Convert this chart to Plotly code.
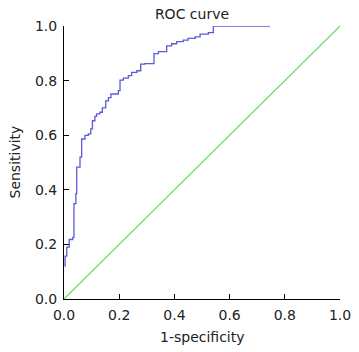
import plotly.graph_objects as go

# ROC curve vertices (false positive rate, true positive rate)
fpr = [0.004, 0.004, 0.010, 0.019, 0.032, 0.036, 0.043, 0.046, 0.058, 0.064,
       0.076, 0.088, 0.097, 0.103, 0.112, 0.118, 0.130, 0.139, 0.151, 0.161,
       0.170, 0.197, 0.203, 0.215, 0.233, 0.245, 0.264, 0.278, 0.293, 0.326,
       0.342, 0.372, 0.390, 0.408, 0.432, 0.450, 0.475, 0.493, 0.523, 0.541,
       0.746]
tpr = [0.118, 0.157, 0.190, 0.218, 0.226, 0.349, 0.386, 0.483, 0.520, 0.586,
       0.599, 0.605, 0.623, 0.653, 0.669, 0.678, 0.684, 0.700, 0.726, 0.738,
       0.751, 0.763, 0.802, 0.809, 0.818, 0.830, 0.836, 0.860, 0.862, 0.899,
       0.906, 0.927, 0.935, 0.943, 0.948, 0.955, 0.960, 0.970, 0.976, 1.000,
       1.000]

# Reference diagonal
diag_x = [0.0, 1.0]
diag_y = [0.0, 1.0]

tick_vals = [0.0, 0.2, 0.4, 0.6, 0.8, 1.0]
tick_text = ["0.0", "0.2", "0.4", "0.6", "0.8", "1.0"]

FONT = "DejaVu Sans"
TXT = "#222222"
W, H = 359, 352

fig = go.Figure()
fig.add_trace(go.Scatter(x=diag_x, y=diag_y, mode="lines",
                         line=dict(color="#6fe06f", width=1.3),
                         cliponaxis=False, showlegend=False, hoverinfo="skip"))
fig.add_trace(go.Scatter(x=fpr, y=tpr, mode="lines", line_shape="hv",
                         line=dict(color="#5a5ad8", width=1.3),
                         cliponaxis=False, showlegend=False, hoverinfo="skip"))

axis_common = dict(
    range=[0, 1], showgrid=False, zeroline=False, automargin=False,
    showline=True, linecolor="black", linewidth=1,
    ticks="inside", ticklen=5, tickcolor="black", tickwidth=1,
    tickvals=tick_vals, ticktext=tick_text, ticklabelstandoff=3,
    tickfont=dict(family=FONT, size=14, color=TXT),
)

fig.update_layout(
    width=W, height=H,
    margin=dict(l=64, r=19, t=26, b=53, autoexpand=False),
    paper_bgcolor="white", plot_bgcolor="white",
    font=dict(family=FONT, size=14, color=TXT),
    title=dict(text="ROC curve", x=192 / W, xref="container", xanchor="center",
               y=1 - 14 / H, yref="container", yanchor="middle",
               font=dict(family=FONT, size=14, color=TXT)),
    xaxis=dict(**axis_common),
    yaxis=dict(**axis_common),
    annotations=[
        dict(text="1-specificity", xref="paper", x=0.5, yref="paper",
             y=-(337 - 299) / 273, xanchor="center", yanchor="middle",
             showarrow=False, font=dict(family=FONT, size=14, color=TXT)),
        dict(text="Sensitivity", xref="paper", x=-(64 - 14) / 276, yref="paper",
             y=0.5, xanchor="center", yanchor="middle", textangle=-90,
             showarrow=False, font=dict(family=FONT, size=14, color=TXT)),
    ],
)

fig.write_html("out.html", config={"displayModeBar": False},
               post_script="document.body.style.margin='0';document.body.style.padding='0';")
